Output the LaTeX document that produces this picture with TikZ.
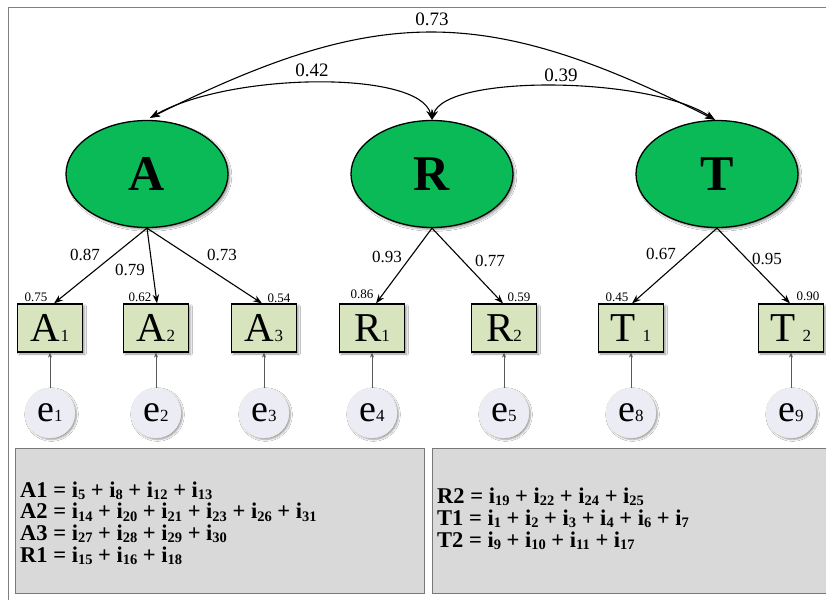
\documentclass[tikz,border=0pt]{standalone}
\usepackage{fontspec}
\setmainfont{Liberation Serif}
\usetikzlibrary{shapes.geometric,arrows.meta,shadows.blur,calc}
\definecolor{latgreen}{RGB}{10,186,86}
\definecolor{boxgreen}{RGB}{215,228,189}
\definecolor{errfill}{RGB}{236,236,244}
\definecolor{panelfill}{RGB}{217,217,217}
\definecolor{panelline}{RGB}{120,120,120}
\newcommand{\sbx}[1]{{\fontsize{17}{17}\selectfont #1}}
\newcommand{\ii}[1]{i\raisebox{-0.25ex}{\fontsize{14.5}{14.5}\selectfont #1}}
\begin{document}
\begin{tikzpicture}[x=1pt,y=-1pt,
  latent/.style={ellipse,draw=black,line width=1.3pt,fill=latgreen,minimum width=162pt,minimum height=107pt,inner sep=0pt,
     font=\fontsize{50}{50}\selectfont\bfseries,blur shadow={shadow xshift=2pt,shadow yshift=-2pt,shadow blur steps=4,shadow opacity=40}},
  obs/.style={rectangle,draw=black,line width=1.2pt,fill=boxgreen,minimum width=65pt,minimum height=48pt,inner sep=0pt,
     font=\fontsize{41}{41}\selectfont,blur shadow={shadow xshift=2pt,shadow yshift=-2pt,shadow blur steps=4,shadow opacity=40}},
  err/.style={circle,fill=errfill,draw=white!85!gray,line width=0.4pt,minimum size=50pt,inner sep=0pt,
     font=\fontsize{38}{38}\selectfont,blur shadow={shadow xshift=1.5pt,shadow yshift=-1.5pt,shadow blur steps=4,shadow opacity=40}},
  load/.style={-{Stealth[length=9pt,width=6.5pt]},line width=1.1pt},
  cov/.style={{Stealth[length=10pt,width=7pt]}-{Stealth[length=10pt,width=7pt]},line width=1.1pt},
  erra/.style={-{Stealth[length=5pt,width=4pt]},line width=0.6pt,draw=gray!70!black},
  lbl/.style={font=\fontsize{17}{17}\selectfont},
  toplbl/.style={font=\fontsize{19}{19}\selectfont},
  small/.style={font=\fontsize{13}{13}\selectfont},
  panel/.style={draw=panelline,line width=0.9pt,fill=panelfill},
  eq/.style={font=\fontsize{22.5}{22.5}\selectfont\bfseries,anchor=base west,inner sep=0pt}
]
\useasboundingbox (0,0) rectangle (826,600);
\fill[white] (0,0) rectangle (826,600);
% outer frame
\draw[gray,line width=0.8pt] (8,600) -- (8,7) -- (826,7);

% latent variables
\node[latent] (A) at (147,174) {A};
\node[latent] (R) at (432,174) {R};
\node[latent] (T) at (717,174) {T};

% observed
\node[obs] (A1) at (50,328) {A\sbx{1}};
\node[obs] (A2) at (156,328) {A\sbx{2}};
\node[obs] (A3) at (264,328) {A\sbx{3}};
\node[obs] (R1) at (372,328) {R\sbx{1}};
\node[obs] (R2) at (504,328) {R\sbx{2}};
\node[obs] (T1) at (631,328) {T\,\sbx{1}};
\node[obs] (T2) at (791,328) {T\,\sbx{2}};

% errors
\foreach \n/\x in {1/50,2/156,3/264,4/372,5/504,8/631,9/791}
  \node[err] (e\n) at (\x,413) {e\sbx{\n}};
\draw[erra] (e1) -- (A1);
\draw[erra] (e2) -- (A2);
\draw[erra] (e3) -- (A3);
\draw[erra] (e4) -- (R1);
\draw[erra] (e5) -- (R2);
\draw[erra] (e8) -- (T1);
\draw[erra] (e9) -- (T2);

% loadings
\draw[load] (A.south) -- ($(A1.north)+(4,0)$);
\draw[load] (A.south) -- ($(A2.north)+(1,0)$);
\draw[load] (A.south) -- ($(A3.north)+(-2,0)$);
\draw[load] (R.south) -- ($(R1.north)+(4,0)$);
\draw[load] (R.south) -- ($(R2.north)+(-1,0)$);
\draw[load] (T.south) -- ($(T1.north)+(1,0)$);
\draw[load] (T.south) -- ($(T2.north)+(-1,0)$);

\node[lbl] at (85,255) {0.87};
\node[lbl] at (130,270) {0.79};
\node[lbl] at (222,255) {0.73};
\node[lbl] at (387,257) {0.93};
\node[lbl] at (490,261) {0.77};
\node[lbl] at (661,254) {0.67};
\node[lbl] at (767,259) {0.95};

\node[small] at (36,297) {0.75};
\node[small] at (140,297) {0.62};
\node[small] at (279,298) {0.54};
\node[small] at (362,294) {0.86};
\node[small] at (519,297) {0.59};
\node[small] at (617,297) {0.45};
\node[small] at (808,296) {0.90};

% covariances
\draw[cov] ($(A.north)+(3,-2)$) .. controls (379,4) and (485,4) .. ($(T.north)+(-2,0)$);
\draw[cov] ($(A.north)+(3,-2)$) .. controls (230,72) and (420,70) .. (R.north);
\draw[cov] (R.north) .. controls (445,74) and (650,76) .. ($(T.north)+(-2,0)$);
\node[toplbl] at (432,19) {0.73};
\node[toplbl] at (312,70) {0.42};
\node[toplbl] at (561,75) {0.39};

% panels
\node[panel,minimum width=409pt,minimum height=145pt,anchor=north west,inner sep=0pt] (P1) at (15,448) {};
\node[panel,minimum width=400pt,minimum height=145pt,anchor=north west,inner sep=0pt] (P2) at (432,448) {};
\node[eq] (L1) at (20,497) {A1 = \ii{5} + \ii{8} + \ii{12} + \ii{13}};
\node[eq] (L2) at (20,518.7) {A2 = \ii{14} + \ii{20} + \ii{21} + \ii{23} + \ii{26} + \ii{31}};
\node[eq] (L3) at (20,540.4) {A3 = \ii{27} + \ii{28} + \ii{29} + \ii{30}};
\node[eq] (L4) at (20,562) {R1 = \ii{15} + \ii{16} + \ii{18}};
\node[eq] (L5) at (437,503) {R2 = \ii{19} + \ii{22} + \ii{24} + \ii{25}};
\node[eq] (L6) at (437,525) {T1 = \ii{1} + \ii{2} + \ii{3} + \ii{4} + \ii{6} + \ii{7}};
\node[eq] (L7) at (437,547) {T2 = \ii{9} + \ii{10} + \ii{11} + \ii{17}};
\end{tikzpicture}
\end{document}
